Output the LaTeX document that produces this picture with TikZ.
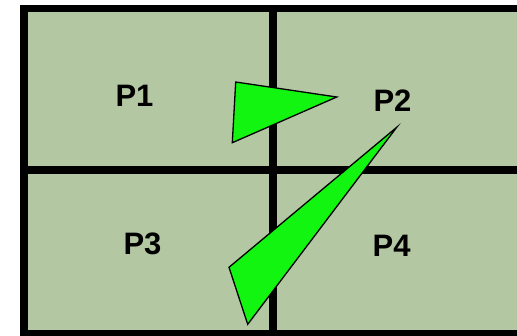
\documentclass[tikz,border=0pt]{standalone}
\usepackage{fontspec}
\setmainfont{Liberation Sans}
\usetikzlibrary{positioning,calc}
\definecolor{PartGreen}{RGB}{179,199,163}
\definecolor{TriGreen}{RGB}{17,245,17}
\tikzset{
  grid/.style={draw=black,line width=7.5pt},
  tri/.style={draw=black,fill=TriGreen,line width=1.3pt,line join=miter},
  part/.style={font=\fontsize{31}{31}\selectfont\bfseries,inner sep=0pt},
}
\begin{document}
\begin{tikzpicture}[x=1pt,y=-1pt]
  \useasboundingbox (0,0) rectangle (517,335);
  \clip (0,0) rectangle (517,335);
  % partitions
  \fill[PartGreen] (24,8.5) rectangle (522,333.5);
  \draw[grid] (273,8.5) -- (273,333.5);
  \draw[grid] (24,170) -- (522,170);
  \draw[grid] (522,8.5) -- (24,8.5) -- (24,333.5) -- (522,333.5);
  % triangles
  \coordinate (a1) at (235.7,82);
  \coordinate (a2) at (336.7,97);
  \coordinate (a3) at (232.3,142.7);
  \coordinate (b1) at (396.7,127.3);
  \coordinate (b2) at (229,267.3);
  \coordinate (b3) at (247.7,324.3);
  \draw[tri] (a1) -- (a2) -- (a3) -- cycle;
  \draw[tri] (b1) -- (b2) -- (b3) -- cycle;
  % labels
  \node[part] (p1) at (134.5,95.5) {P1};
  \node[part] (p2) at (392.5,100.8) {P2};
  \node[part] (p3) at (142.5,244) {P3};
  \node[part] (p4) at (391.7,246.3) {P4};
\end{tikzpicture}
\end{document}
